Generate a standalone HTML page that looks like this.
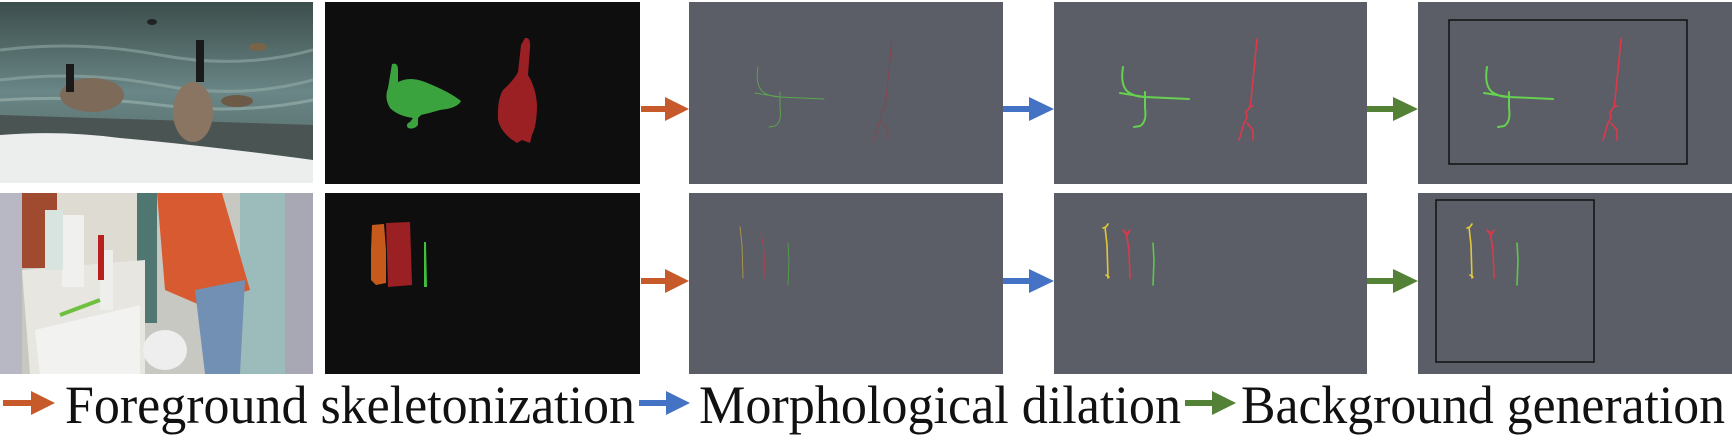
<!DOCTYPE html>
<html><head><meta charset="utf-8"><style>
html,body{margin:0;padding:0;background:#fff;width:1732px;height:441px;overflow:hidden}
svg{display:block}
text{font-family:"Liberation Serif",serif}
</style></head><body>
<svg width="1732" height="441" viewBox="0 0 1732 441" xmlns="http://www.w3.org/2000/svg">
<defs>
<linearGradient id="water" x1="0" y1="0" x2="0" y2="1">
<stop offset="0" stop-color="#3c4e4c"/><stop offset="0.5" stop-color="#6a8686"/><stop offset="1" stop-color="#4e6060"/>
</linearGradient>
<clipPath id="c1"><rect x="0" y="2" width="313" height="181"/></clipPath>
<clipPath id="c2"><rect x="0" y="193" width="313" height="181"/></clipPath>
</defs>

<!-- photo 1: geese -->
<g clip-path="url(#c1)">
<rect x="0" y="2" width="313" height="181" fill="url(#water)"/>
<path d="M0 50 Q80 40 160 55 T313 50" stroke="#9bb3b0" stroke-width="3" fill="none" opacity=".5"/>
<path d="M0 80 Q80 70 160 85 T313 80" stroke="#9bb3b0" stroke-width="3" fill="none" opacity=".5"/>
<path d="M0 100 Q80 95 160 105 T313 100" stroke="#a8c0bc" stroke-width="3" fill="none" opacity=".5"/>
<path d="M0 115 L313 125 L313 160 L0 135 Z" fill="#4a5452"/>
<path d="M0 135 Q60 130 120 138 Q200 145 313 160 L313 183 L0 183 Z" fill="#eceeee"/>
<ellipse cx="92" cy="95" rx="32" ry="17" fill="#7d6a58"/>
<rect x="66" y="64" width="8" height="28" fill="#1a1a1a"/>
<ellipse cx="193" cy="112" rx="20" ry="30" fill="#8a7563"/>
<rect x="196" y="40" width="8" height="42" fill="#1a1a1a"/>
<ellipse cx="237" cy="101" rx="16" ry="6" fill="#6c5a46"/>
<ellipse cx="258" cy="47" rx="9" ry="4" fill="#7a6448"/>
<ellipse cx="152" cy="22" rx="5" ry="3" fill="#222"/>
</g>

<!-- photo 2: bathroom -->
<g clip-path="url(#c2)">
<rect x="0" y="193" width="313" height="181" fill="#c8c8c2"/>
<rect x="50" y="193" width="90" height="85" fill="#dedbd2"/>
<rect x="15" y="193" width="42" height="75" fill="#a04a30"/>
<rect x="137" y="193" width="20" height="130" fill="#4f7670"/>
<rect x="240" y="193" width="55" height="181" fill="#9cbcbc"/>
<rect x="285" y="193" width="28" height="181" fill="#a8a8b4"/>
<rect x="0" y="193" width="22" height="181" fill="#b8b8c4"/>
<path d="M22 270 L145 260 L145 374 L30 374 Z" fill="#e8e6e0"/>
<path d="M35 330 L140 305 L140 374 L40 374 Z" fill="#f2f2f0"/>
<rect x="62" y="215" width="22" height="72" fill="#f0f0ee"/>
<rect x="45" y="210" width="18" height="60" fill="#d8e4e0"/>
<rect x="100" y="250" width="13" height="60" fill="#eeeeec"/>
<rect x="98" y="235" width="6" height="45" fill="#b82020"/>
<path d="M157 193 L222 193 L250 290 L200 305 L165 290 Z" fill="#d85a30"/>
<path d="M195 290 L245 280 L240 374 L205 374 Z" fill="#7290b4"/>
<ellipse cx="165" cy="350" rx="22" ry="20" fill="#eeeeee"/>
<path d="M60 315 L100 300" stroke="#70c040" stroke-width="4"/>
</g>

<!-- masks -->
<rect x="325" y="2" width="315" height="182" fill="#0e0e0e"/>
<rect x="325" y="193" width="315" height="181" fill="#0e0e0e"/>
<path d="M392 64 Q398 62 398 70 L398 82 Q410 76 425 82 Q450 92 461 101 Q458 108 440 110 Q430 113 421 115 L418 118 L418 125 Q414 130 408 128 Q405 124 410 122 L413 118 Q398 116 390 108 Q384 98 388 88 Z" fill="#3aa33e"/>
<path d="M525 38 Q531 37 530 48 L528 75 Q536 88 537 105 Q537 125 532 135 L530 143 L522 140 L517 143 L511 139 Q500 130 498 120 Q497 100 503 90 Q514 80 518 72 L521 45 Z" fill="#9a2024"/>
<path d="M372 225 L384 224 L386 250 L386 283 L376 285 L371 280 L371 250 Z" fill="#c55a1c"/>
<path d="M386 223 L410 222 L412 285 L388 287 Z" fill="#9a2024"/>
<path d="M424 242 L426 242 L427 287 L424 287 Z" fill="#3fbf3a"/>

<!-- skeleton panels -->
<rect x="689" y="2" width="314" height="182" fill="#5b5e66"/>
<rect x="689" y="193" width="314" height="181" fill="#5b5e66"/>
<rect x="1054" y="2" width="313" height="182" fill="#5b5e66"/>
<rect x="1054" y="193" width="313" height="181" fill="#5b5e66"/>
<rect x="1418" y="2" width="314" height="182" fill="#5b5e66"/>
<rect x="1418" y="193" width="314" height="181" fill="#5b5e66"/>

<g id="sk1" fill="none" stroke-linecap="round">
<path d="M1123 67 Q1120 85 1128 92 Q1135 97 1145 97 M1120 93 L1145 97 L1189 99 M1145 92 L1145 108 Q1147 122 1140 126 L1134 127" stroke="#66d050" stroke-width="2"/>
<path d="M1257 39 L1254 70 L1251 100 L1250 107 L1246 112 L1247 118 L1244 123 L1239 140 M1247 123 L1253 130 L1253 140 M1250 107 L1253 106" stroke="#e0384a" stroke-width="1.6"/>
</g>
<g fill="none" stroke-linecap="round">
<path d="M1105 227 L1107 245 L1108 278 M1103 228 L1106 227 L1108 224 M1106 275 L1109 277" stroke="#e0c83a" stroke-width="1.6"/>
<path d="M1126 232 L1129 250 L1130 278 M1123 230 L1127 235 L1130 230" stroke="#e0384a" stroke-width="1.6"/>
<path d="M1153 243 L1154 260 L1153 285" stroke="#5cc848" stroke-width="1.6"/>
</g>
<!-- panel5 copies -->
<g transform="translate(364,0)" fill="none" stroke-linecap="round">
<path d="M1123 67 Q1120 85 1128 92 Q1135 97 1145 97 M1120 93 L1145 97 L1189 99 M1145 92 L1145 108 Q1147 122 1140 126 L1134 127" stroke="#66d050" stroke-width="2"/>
<path d="M1257 39 L1254 70 L1251 100 L1250 107 L1246 112 L1247 118 L1244 123 L1239 140 M1247 123 L1253 130 L1253 140 M1250 107 L1253 106" stroke="#e0384a" stroke-width="1.6"/>
<path d="M1105 227 L1107 245 L1108 278 M1103 228 L1106 227 L1108 224 M1106 275 L1109 277" stroke="#e0c83a" stroke-width="1.6"/>
<path d="M1126 232 L1129 250 L1130 278 M1123 230 L1127 235 L1130 230" stroke="#e0384a" stroke-width="1.6"/>
<path d="M1153 243 L1154 260 L1153 285" stroke="#5cc848" stroke-width="1.6"/>
</g>
<!-- panel3 faint -->
<g transform="translate(-365,0)" fill="none" stroke-linecap="round" opacity=".75">
<path d="M1123 67 Q1120 85 1128 92 Q1135 97 1145 97 M1120 93 L1145 97 L1189 99 M1145 92 L1145 108 Q1147 122 1140 126 L1134 127" stroke="#5cc048" stroke-width="0.9"/>
<path d="M1257 39 L1254 70 L1251 100 L1250 107 L1246 112 L1247 118 L1244 123 L1239 140 M1247 123 L1253 130 L1253 140" stroke="#9a3a44" stroke-width="0.9"/>
<path d="M1105 227 L1107 245 L1108 278" stroke="#c8b040" stroke-width="0.9"/>
<path d="M1126 232 L1129 250 L1130 278" stroke="#c83848" stroke-width="0.9"/>
<path d="M1153 243 L1154 260 L1153 285" stroke="#50b840" stroke-width="0.9"/>
</g>
<!-- bounding boxes -->
<rect x="1449" y="20" width="238" height="144" fill="none" stroke="#111" stroke-width="1.5"/>
<rect x="1436" y="200" width="158" height="162" fill="none" stroke="#111" stroke-width="1.5"/>

<!-- arrows between panels -->
<g>
<path d="M641 106 L665 106 L665 97 L689 109 L665 121 L665 112 L641 112 Z" fill="#c65a2a"/>
<path d="M641 278 L665 278 L665 269 L689 281 L665 293 L665 284 L641 284 Z" fill="#c65a2a"/>
<path d="M1003 106 L1029 106 L1029 97 L1054 109 L1029 121 L1029 112 L1003 112 Z" fill="#4472c4"/>
<path d="M1003 278 L1029 278 L1029 269 L1054 281 L1029 293 L1029 284 L1003 284 Z" fill="#4472c4"/>
<path d="M1367 106 L1393 106 L1393 97 L1418 109 L1393 121 L1393 112 L1367 112 Z" fill="#538135"/>
<path d="M1367 278 L1393 278 L1393 269 L1418 281 L1393 293 L1393 284 L1367 284 Z" fill="#538135"/>
</g>

<!-- legend -->
<path d="M3 400 L31 400 L31 391 L55 403 L31 415 L31 406 L3 406 Z" fill="#c65a2a"/>
<text x="65" y="423" font-size="54" textLength="570" lengthAdjust="spacingAndGlyphs" fill="#111">Foreground skeletonization</text>
<path d="M639 400 L666 400 L666 391 L690 403 L666 415 L666 406 L639 406 Z" fill="#4472c4"/>
<text x="699" y="423" font-size="54" textLength="482" lengthAdjust="spacingAndGlyphs" fill="#111">Morphological dilation</text>
<path d="M1185 400 L1212 400 L1212 391 L1236 403 L1212 415 L1212 406 L1185 406 Z" fill="#538135"/>
<text x="1241" y="423" font-size="54" textLength="484" lengthAdjust="spacingAndGlyphs" fill="#111">Background generation</text>
</svg>
</body></html>
